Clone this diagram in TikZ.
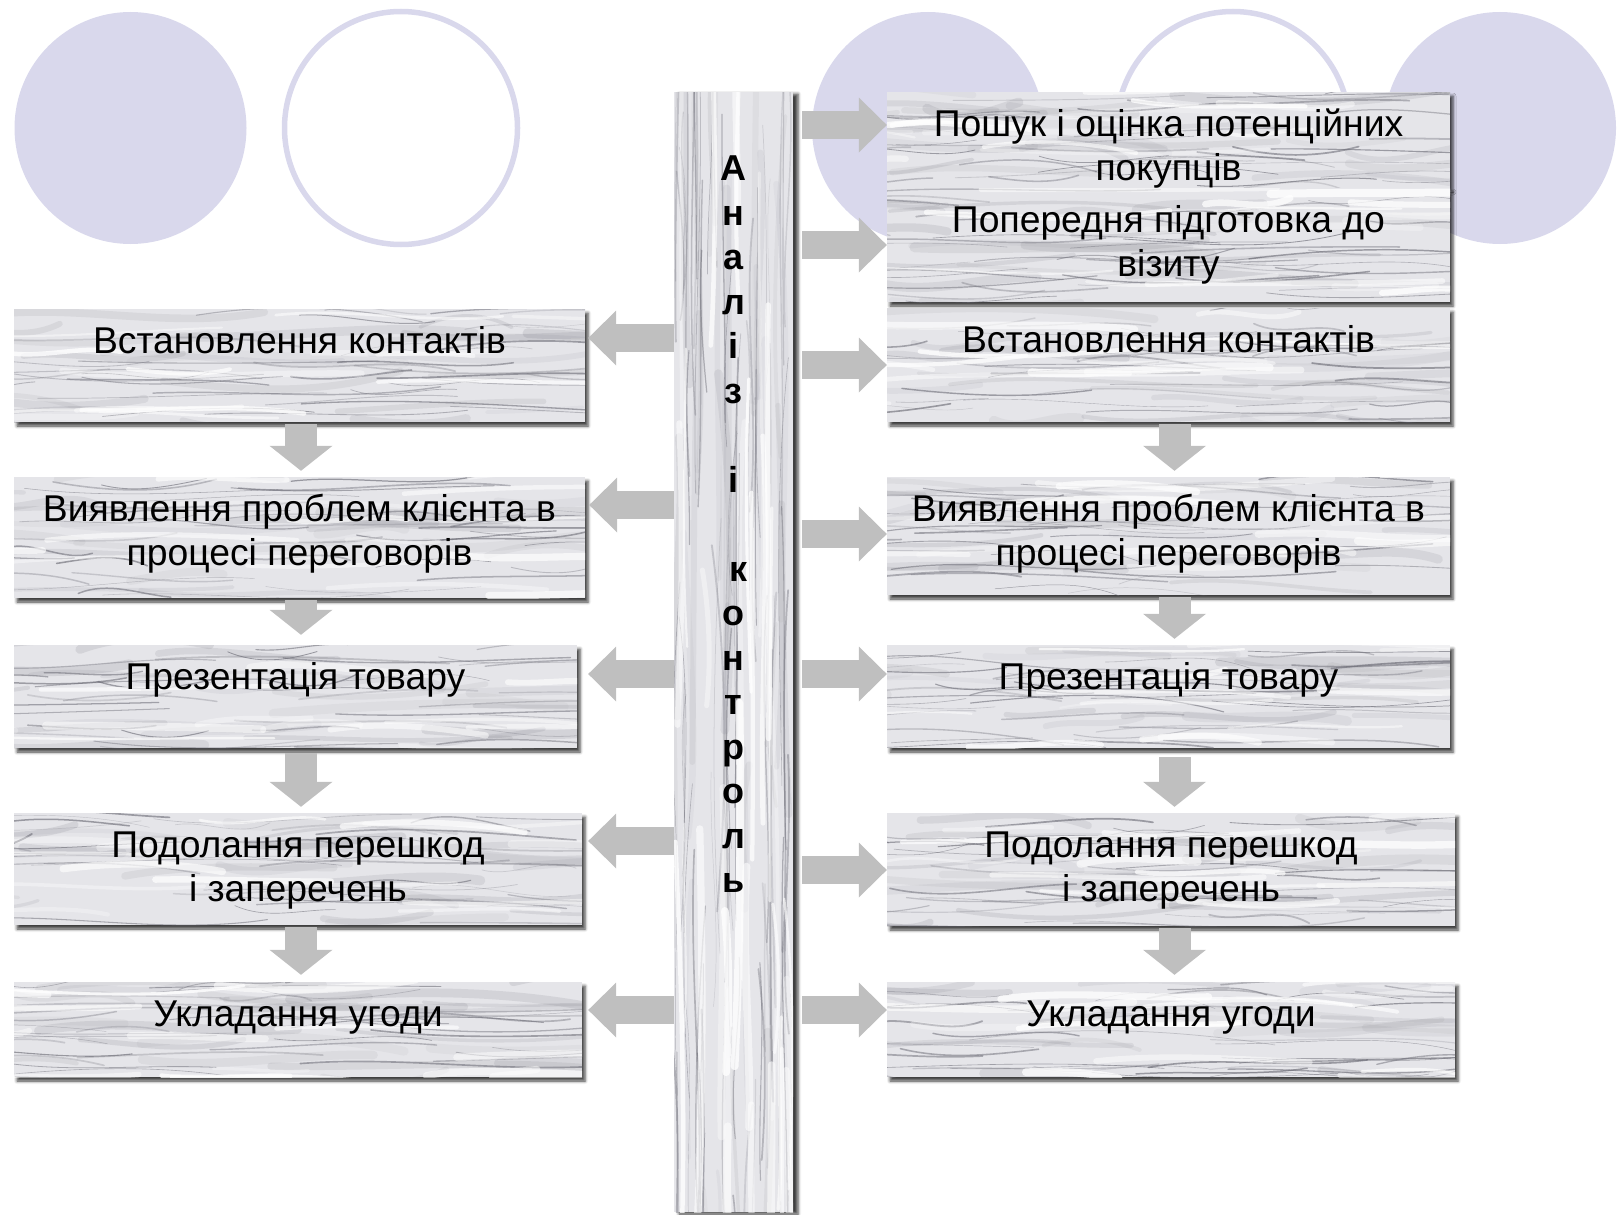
\documentclass[tikz,border=0pt]{standalone}
\usepackage{fontspec}
\setmainfont{Liberation Sans}
\usetikzlibrary{arrows.meta,shadows.blur,positioning}

\definecolor{lavender}{RGB}{217,216,236}
\definecolor{arrowgray}{RGB}{191,191,191}
\definecolor{marble}{RGB}{229,229,233}
\definecolor{vein}{RGB}{108,108,118}

% streaks of a marble slab: count, colour, min width, extra width, opacity, wave
\newcommand{\hveins}[6]{%
  \pgfpointanchor{path picture bounding box}{south west}\pgfgetlastxy{\vnxl}{\vnyl}%
  \pgfpointanchor{path picture bounding box}{north east}\pgfgetlastxy{\vnxr}{\vnyr}%
  \foreach \k in {1,...,#1}{%
    \pgfmathsetmacro{\vnw}{(\vnxr)-(\vnxl)}%
    \pgfmathsetmacro{\vnxa}{(\vnxl)+(rnd*1.2-0.3)*\vnw}%
    \pgfmathsetmacro{\vnxd}{\vnxa+(0.15+0.4*rnd)*\vnw}%
    \pgfmathsetmacro{\vnxb}{\vnxa+0.33*(\vnxd-\vnxa)}%
    \pgfmathsetmacro{\vnxc}{\vnxa+0.66*(\vnxd-\vnxa)}%
    \pgfmathsetmacro{\vnya}{(\vnyl)+rnd*((\vnyr)-(\vnyl))}%
    \pgfmathsetmacro{\vnyb}{\vnya+(rnd-0.5)*#6}%
    \pgfmathsetmacro{\vnyc}{\vnya+(rnd-0.5)*#6}%
    \pgfmathsetmacro{\vnyd}{\vnya+(rnd-0.5)*0.6*#6}%
    \pgfmathsetmacro{\vnlw}{#3+#4*rnd}%
    \pgfmathsetmacro{\vnop}{#5*(0.3+0.7*rnd)}%
    \draw[#2,line width=\vnlw pt,opacity=\vnop,line cap=round]
      (\vnxa pt,\vnya pt) .. controls (\vnxb pt,\vnyb pt) and (\vnxc pt,\vnyc pt) .. (\vnxd pt,\vnyd pt);
  }%
}
\newcommand{\vveins}[6]{%
  \pgfpointanchor{path picture bounding box}{south west}\pgfgetlastxy{\vnxl}{\vnyl}%
  \pgfpointanchor{path picture bounding box}{north east}\pgfgetlastxy{\vnxr}{\vnyr}%
  \foreach \k in {1,...,#1}{%
    \pgfmathsetmacro{\vnh}{(\vnyr)-(\vnyl)}%
    \pgfmathsetmacro{\vnya}{(\vnyl)+(rnd*1.2-0.3)*\vnh}%
    \pgfmathsetmacro{\vnyd}{\vnya+(0.12+0.3*rnd)*\vnh}%
    \pgfmathsetmacro{\vnyb}{\vnya+0.33*(\vnyd-\vnya)}%
    \pgfmathsetmacro{\vnyc}{\vnya+0.66*(\vnyd-\vnya)}%
    \pgfmathsetmacro{\vnxa}{(\vnxl)+rnd*((\vnxr)-(\vnxl))}%
    \pgfmathsetmacro{\vnxb}{\vnxa+(rnd-0.5)*#6}%
    \pgfmathsetmacro{\vnxc}{\vnxa+(rnd-0.5)*#6}%
    \pgfmathsetmacro{\vnxd}{\vnxa+(rnd-0.5)*0.6*#6}%
    \pgfmathsetmacro{\vnlw}{#3+#4*rnd}%
    \pgfmathsetmacro{\vnop}{#5*(0.3+0.7*rnd)}%
    \draw[#2,line width=\vnlw pt,opacity=\vnop,line cap=round]
      (\vnxa pt,\vnya pt) .. controls (\vnxb pt,\vnyb pt) and (\vnxc pt,\vnyc pt) .. (\vnxd pt,\vnyd pt);
  }%
}

\begin{document}
\begin{tikzpicture}[x=1pt,y=-1pt,every node/.style={inner sep=0pt}]
    \tikzset{
      disc/.style={fill=lavender},
      ring/.style={draw=lavender,line width=5.5pt},
      stone/.style={rectangle,fill=marble,
        blur shadow={shadow xshift=3pt,shadow yshift=-4pt,shadow blur radius=3pt,shadow opacity=75},
        path picture={\hveins{22}{vein}{3}{7}{0.15}{34}\hveins{38}{vein}{0.4}{1.4}{0.65}{30}%
          \hveins{14}{white}{2}{6}{0.8}{22}}},
      pillar/.style={rectangle,fill=marble,
        blur shadow={shadow xshift=5pt,shadow yshift=-2pt,shadow blur radius=3pt,shadow opacity=75},
        path picture={\vveins{30}{vein}{3}{6}{0.12}{24}\vveins{80}{vein}{0.4}{1.6}{0.5}{22}%
          \vveins{34}{white}{2}{6}{0.85}{16}}},
      lbl/.style={align=center,font=\fontsize{37.3}{44}\selectfont},
      harr/.style={arrowgray,line width=28pt,-{Triangle[width=55pt,length=28pt,line width=0pt]}},
      varr/.style={arrowgray,line width=32pt,-{Triangle[width=63pt,length=25pt,line width=0pt]}}
    }
    \pgfmathsetseed{4}
    \useasboundingbox (0,0) rectangle (1622,1215);

    \fill[disc] (130.5,128) circle[radius=116pt];
    \draw[ring] (401,128) circle[radius=116.5pt];
    \fill[disc] (928,128) circle[radius=116pt];
    \draw[ring] (1233,128) circle[radius=116.5pt];
    \fill[disc] (1500,128) circle[radius=116pt];

    % centre column
    \node[pillar,minimum width=119pt,minimum height=1120pt] (bar) at (733.5,652) {};
    \node[align=center,font=\bfseries\fontsize{36}{44.5}\selectfont,below=57.8pt of bar.north] (bartxt)
      {\strut А\\н\\а\\л\\і\\з\\\mbox{}\\і\\\mbox{}\\\ к\\о\\н\\т\\р\\о\\л\\ь};

    % left chain
    \node[stone,minimum width=571pt,minimum height=113pt] (l1) at (299.5,365.5) {};
    \node[lbl,below=14pt of l1.north] (l1t) {\strut Встановлення контактів};
    \node[stone,minimum width=571pt,minimum height=121pt] (l2) at (299.5,537.5) {};
    \node[lbl,below=14pt of l2.north] (l2t) {\strut Виявлення проблем клієнта в\\процесі переговорів};
    \node[stone,minimum width=563pt,minimum height=103pt] (l3) at (295.5,696.5) {};
    \node[lbl,below=14pt of l3.north] (l3t) {\strut Презентація товару};
    \node[stone,minimum width=568pt,minimum height=112pt] (l4) at (298,869) {};
    \node[lbl,below=14pt of l4.north] (l4t) {\strut Подолання перешкод\\і заперечень};
    \node[stone,minimum width=568pt,minimum height=95pt] (l5) at (298,1029.5) {};
    \node[lbl,below=14pt of l5.north] (l5t) {\strut Укладання угоди};

    % right chain
    \node[stone,minimum width=563pt,minimum height=96pt] (r1) at (1168.5,140) {};
    \node[lbl,below=14pt of r1.north] (r1t) {\strut Пошук і оцінка потенційних\\покупців};
    \node[stone,minimum width=563pt,minimum height=114pt] (r2) at (1168.5,245) {};
    \node[lbl,below=14pt of r2.north] (r2t) {\strut Попередня підготовка до\\візиту};
    \node[stone,minimum width=563pt,minimum height=114pt] (r3) at (1168.5,365) {};
    \node[lbl,below=14pt of r3.north] (r3t) {\strut Встановлення контактів};
    \node[stone,minimum width=563pt,minimum height=118pt] (r4) at (1168.5,536) {};
    \node[lbl,below=14pt of r4.north] (r4t) {\strut Виявлення проблем клієнта в\\процесі переговорів};
    \node[stone,minimum width=563pt,minimum height=103pt] (r5) at (1168.5,696.5) {};
    \node[lbl,below=14pt of r5.north] (r5t) {\strut Презентація товару};
    \node[stone,minimum width=568pt,minimum height=113pt] (r6) at (1171,869.5) {};
    \node[lbl,below=14pt of r6.north] (r6t) {\strut Подолання перешкод\\і заперечень};
    \node[stone,minimum width=568pt,minimum height=95pt] (r7) at (1171,1029.5) {};
    \node[lbl,below=14pt of r7.north] (r7t) {\strut Укладання угоди};

    % from the column to the right
    \draw[harr,shorten <=9pt] (bar.east |- 0,125) -- (r1.west |- 0,125);
    \draw[harr,shorten <=9pt] (bar.east |- 0,245) -- (r2.west |- 0,245);
    \draw[harr,shorten <=9pt] (bar.east |- 0,365) -- (r3.west |- 0,365);
    \draw[harr,shorten <=9pt] (bar.east |- 0,534) -- (r4.west |- 0,534);
    \draw[harr,shorten <=9pt] (bar.east |- 0,674) -- (r5.west |- 0,674);
    \draw[harr,shorten <=9pt] (bar.east |- 0,870) -- (r6.west |- 0,870);
    \draw[harr,shorten <=9pt] (bar.east |- 0,1010) -- (r7.west |- 0,1010);
    % from the column to the left
    \draw[harr,shorten >=3pt] (bar.west |- 0,338) -- (l1.east |- 0,338);
    \draw[harr,shorten >=4pt] (bar.west |- 0,505) -- (l2.east |- 0,505);
    \draw[harr,shorten >=11pt] (bar.west |- 0,674) -- (l3.east |- 0,674);
    \draw[harr,shorten >=6pt] (bar.west |- 0,841) -- (l4.east |- 0,841);
    \draw[harr,shorten >=6pt] (bar.west |- 0,1010) -- (l5.east |- 0,1010);
    % down the chains
    \draw[varr,shorten <=2pt,shorten >=6pt] (l1.south -| 301,0) -- (l2.north -| 301,0);
    \draw[varr,shorten <=2pt,shorten >=10pt] (l2.south -| 301,0) -- (l3.north -| 301,0);
    \draw[varr,shorten <=5pt,shorten >=6pt] (l3.south -| 301,0) -- (l4.north -| 301,0);
    \draw[varr,shorten <=2pt,shorten >=7pt] (l4.south -| 301,0) -- (l5.north -| 301,0);
    \draw[varr,shorten <=2pt,shorten >=6pt] (r3.south -| 1174.5,0) -- (r4.north -| 1174.5,0);
    \draw[varr,shorten <=2pt,shorten >=6pt] (r4.south -| 1174.5,0) -- (r5.north -| 1174.5,0);
    \draw[varr,shorten <=9pt,shorten >=6pt] (r5.south -| 1174.5,0) -- (r6.north -| 1174.5,0);
    \draw[varr,shorten <=2pt,shorten >=7pt] (r6.south -| 1174.5,0) -- (r7.north -| 1174.5,0);
  \end{tikzpicture}
\end{document}
